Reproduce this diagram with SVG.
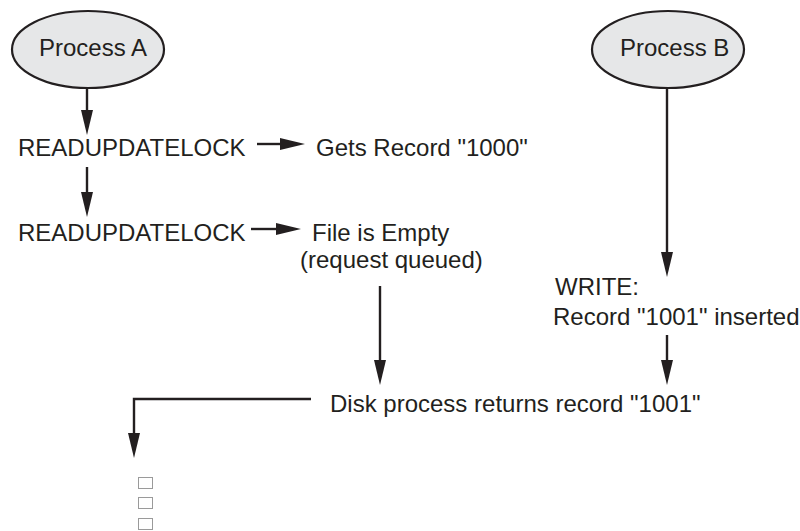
<svg xmlns="http://www.w3.org/2000/svg" width="800" height="531" viewBox="0 0 800 531">
  <defs>
    <marker id="arrow" markerUnits="userSpaceOnUse" markerWidth="25" markerHeight="12" refX="1" refY="6" orient="auto">
      <path d="M0,0 L25,6 L0,12 Z" fill="#231f20"/>
    </marker>
    <style>
      .lbl { font-family: "Liberation Sans", Arial, sans-serif; font-size: 24px; fill: #231f20; }
      .proc { fill: #e6e7e8; stroke: #231f20; stroke-width: 2.2; }
      .wire { fill: none; stroke: #231f20; stroke-width: 2.4; marker-end: url(#arrow); }
      .box { fill: none; stroke: #9a9a9a; stroke-width: 1; }
    </style>
  </defs>
  <rect width="800" height="531" fill="#ffffff"/>

  <g id="process-a">
    <ellipse class="proc" cx="88" cy="49.5" rx="76" ry="38.5"/>
    <text class="lbl" x="39" y="56">Process A</text>
  </g>

  <g id="process-b">
    <ellipse class="proc" cx="668" cy="49.5" rx="76" ry="38.5"/>
    <text class="lbl" x="620" y="56">Process B</text>
  </g>

  <g id="readlock-1">
    <text class="lbl" x="18" y="156">READUPDATELOCK</text>
  </g>

  <g id="gets-record">
    <text class="lbl" x="316" y="156">Gets Record "1000"</text>
  </g>

  <g id="readlock-2">
    <text class="lbl" x="18" y="241">READUPDATELOCK</text>
  </g>

  <g id="file-empty">
    <text class="lbl" x="312" y="241">File is Empty</text>
    <text class="lbl" x="300" y="268">(request queued)</text>
  </g>

  <g id="write">
    <text class="lbl" x="555" y="295">WRITE:</text>
    <text class="lbl" x="553" y="325">Record "1001" inserted</text>
  </g>

  <g id="disk-returns">
    <text class="lbl" x="330" y="412">Disk process returns record "1001"</text>
  </g>

  <g id="continuation">
    <rect class="box" x="138.5" y="477.5" width="14" height="11"/>
    <rect class="box" x="138.5" y="497.5" width="14" height="11"/>
    <rect class="box" x="138.5" y="518.5" width="14" height="11"/>
  </g>

  <g id="connectors">
    <line class="wire" x1="87" y1="87" x2="87" y2="111"/>
    <line class="wire" x1="87" y1="167" x2="87" y2="193"/>
    <line class="wire" x1="257" y1="144" x2="281" y2="144"/>
    <line class="wire" x1="251" y1="229" x2="277" y2="229"/>
    <line class="wire" x1="380" y1="286" x2="380" y2="361"/>
    <line class="wire" x1="667" y1="88" x2="667" y2="253"/>
    <line class="wire" x1="667" y1="335" x2="667" y2="361"/>
    <polyline class="wire" points="311,399 134,399 134,434"/>
  </g>
</svg>
